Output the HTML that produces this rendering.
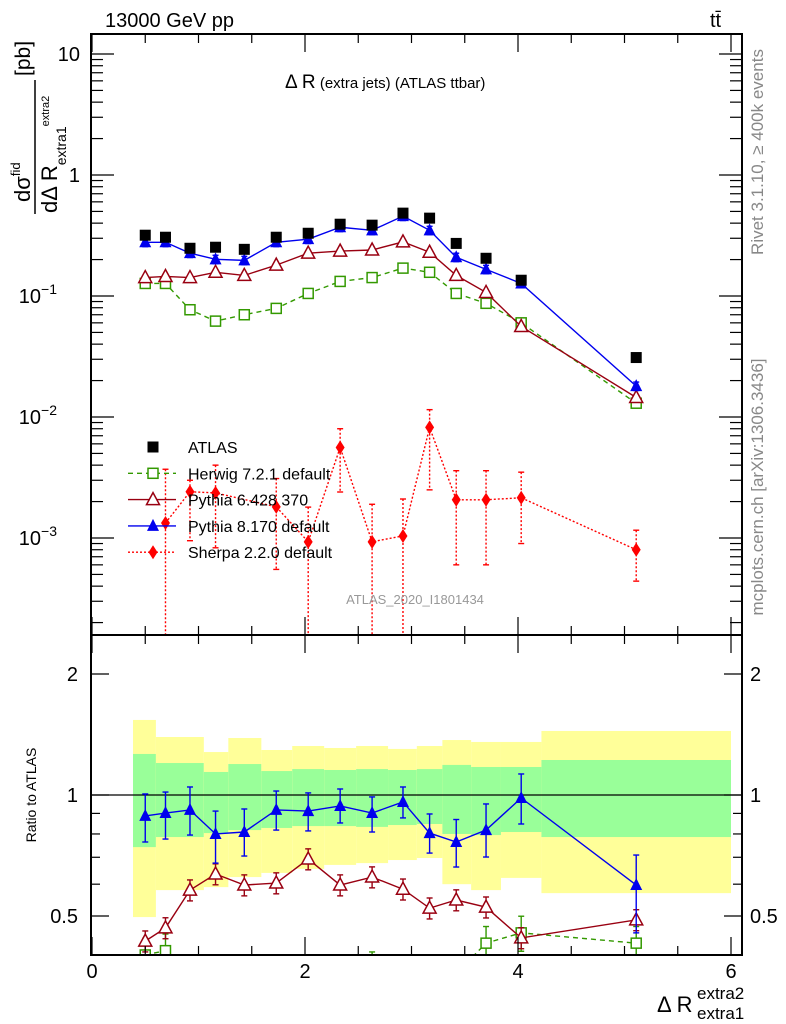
<!DOCTYPE html>
<html><head><meta charset="utf-8"><style>
html,body{margin:0;padding:0;background:#fff;}
svg{display:block;font-family:"Liberation Sans",sans-serif;}
</style></head><body>
<svg id="chart" width="786" height="1024" xmlns="http://www.w3.org/2000/svg">
<g id="bands"></g>
<g id="marks"></g>
<g id="axes"></g>
<text x="105" y="27" font-size="20">13000 GeV pp</text>
<text x="710" y="27" font-size="20">tt̄</text>
<text x="285" y="88" font-size="19">Δ R<tspan font-size="15"> (extra jets) (ATLAS ttbar)</tspan></text>
<text x="415" y="604" font-size="13" fill="#999" text-anchor="middle">ATLAS_2020_I1801434</text>
<text transform="translate(763,152) rotate(-90)" font-size="17" fill="#888" text-anchor="middle">Rivet 3.1.10, ≥ 400k events</text>
<text transform="translate(763,487) rotate(-90)" font-size="17" fill="#888" text-anchor="middle">mcplots.cern.ch [arXiv:1306.3436]</text>
<text transform="translate(36,795) rotate(-90)" font-size="14" text-anchor="middle">Ratio to ATLAS</text>
<g>
<text transform="translate(30,202) rotate(-90)" font-size="22">dσ<tspan font-size="13" dy="-10">fid</tspan></text>
<line x1="35" y1="214" x2="35" y2="80" stroke="#000" stroke-width="1.5"/>
<text transform="translate(57,213) rotate(-90)" font-size="22">dΔ R<tspan font-size="14" dy="9">extra1</tspan><tspan font-size="11" dy="-17">extra2</tspan></text>
<text transform="translate(30,76) rotate(-90)" font-size="21">[pb]</text>
</g>
<g>
<text x="657" y="1012" font-size="22">Δ R</text>
<text x="697" y="999" font-size="17">extra2</text>
<text x="697" y="1019" font-size="17">extra1</text>
</g>
<g id="legend"></g>
</svg>
<script>
// ---- data ----
const xVals = [0.50,0.69,0.92,1.16,1.43,1.73,2.03,2.33,2.63,2.92,3.17,3.42,3.70,4.03,5.11];
const atlas = [0.318,0.306,0.248,0.253,0.243,0.306,0.330,0.392,0.385,0.484,0.440,0.272,0.205,0.135,0.031];
const herwig = [0.127,0.127,0.077,0.062,0.070,0.079,0.105,0.132,0.142,0.170,0.157,0.105,0.087,0.060,0.013];
const pythia6 = [0.142,0.145,0.142,0.157,0.148,0.180,0.226,0.235,0.240,0.280,0.230,0.148,0.107,0.056,0.0145];
const pythia8 = [0.278,0.278,0.226,0.201,0.197,0.278,0.295,0.370,0.349,0.457,0.349,0.209,0.166,0.127,0.018];
const sherpa = [null,0.00133,0.00241,0.00236,null,0.00181,0.00093,0.0056,0.00093,0.00104,0.0082,0.00207,0.00207,0.00215,0.00080];
const sherpaHi = [null,0.0037,0.0030,0.0040,null,0.0031,0.0018,0.0080,0.0019,0.0021,0.0115,0.0036,0.0036,0.0035,0.00116];
const sherpaLo = [null,1e-5,0.00095,0.00083,null,0.00055,1e-5,0.0024,1e-5,1e-5,0.0025,0.0006,0.0006,0.0009,0.00044];
const binEdges = [0.385,0.60,1.05,1.28,1.59,1.88,2.18,2.48,2.78,3.05,3.29,3.56,3.84,4.22,6.0];
const yellowHi = [1.537,1.394,1.279,1.386,1.294,1.324,1.309,1.324,1.302,1.324,1.370,1.355,1.355,1.443];
const greenHi = [1.265,1.201,1.141,1.194,1.147,1.160,1.154,1.160,1.154,1.160,1.188,1.174,1.174,1.222];
const greenLo = [0.742,0.786,0.804,0.818,0.828,0.837,0.837,0.833,0.842,0.847,0.800,0.795,0.809,0.786];
const yellowLo = [0.497,0.580,0.590,0.625,0.640,0.655,0.670,0.677,0.689,0.697,0.600,0.580,0.622,0.570];
const rP8 = [0.887,0.902,0.918,0.800,0.809,0.918,0.912,0.939,0.902,0.961,0.804,0.764,0.818,0.983,0.597];
const rP8Hi = [1.006,1.017,1.047,0.912,0.923,1.023,1.012,1.035,0.989,1.047,0.897,0.869,0.950,1.128,0.709];
const rP8Lo = [0.764,0.777,0.795,0.677,0.705,0.818,0.814,0.852,0.809,0.877,0.717,0.662,0.701,0.847,0.454];
const rP6 = [0.433,0.467,0.580,0.636,0.597,0.604,0.693,0.597,0.625,0.583,0.523,0.548,0.526,0.441,0.489];
const rHw = [0.40,0.41,0.31,0.25,0.29,0.26,0.32,0.34,0.37,0.35,0.36,0.36,0.428,0.454,0.428];
const xTicks = [0,2,4,6];
const topTicks = [10,1,0.1,0.01,0.001];
const topTickLabels = ["10","1","10","10","10"];
const topTickExp = ["","","−1","−2","−3"];
const ratioTicks = [2,1,0.5];
const ratioTickLabels = ["2","1","0.5"];

// ---- geometry ----
const L=91,R=742,T=34,MID=635,B=955;
const X=v=>92+106.5*v;
const Y=v=>175-121*Math.log10(v);
const RY=v=>795-402*Math.log10(v);
const NS="http://www.w3.org/2000/svg";
function mk(tag,attrs,parent){const e=document.createElementNS(NS,tag);for(const k in attrs)e.setAttribute(k,attrs[k]);parent.appendChild(e);return e;}
const bands=document.getElementById('bands'),marks=document.getElementById('marks'),axes=document.getElementById('axes'),legend=document.getElementById('legend');
const clipTop=mk('clipPath',{id:'ct'},document.getElementById('chart'));mk('rect',{x:L,y:T,width:R-L,height:MID-T},clipTop);
const clipBot=mk('clipPath',{id:'cb'},document.getElementById('chart'));mk('rect',{x:L,y:MID,width:R-L,height:B-MID},clipBot);
bands.setAttribute('clip-path','url(#cb)');

for(let i=0;i<yellowHi.length;i++){
  const x0=X(binEdges[i]),x1=X(binEdges[i+1]);
  const y=mk('rect',{x:x0,y:RY(yellowHi[i]),width:x1-x0,height:RY(yellowLo[i])-RY(yellowHi[i]),fill:'#ffff99'},bands);
  
  
  const g=mk('rect',{x:x0,y:RY(greenHi[i]),width:x1-x0,height:RY(greenLo[i])-RY(greenHi[i]),fill:'#99ff99'},bands);
  
  
}
mk('line',{x1:L,x2:R,y1:RY(1),y2:RY(1),stroke:'#000','stroke-width':1.2},bands);

const gTop=mk('g',{'clip-path':'url(#ct)'},marks);
const gBot=mk('g',{'clip-path':'url(#cb)'},marks);

function marker(type,cx,cy,col,parent){
  let e;
  if(type==='sq') e=mk('rect',{x:cx-5.5,y:cy-5.5,width:11,height:11,fill:'#000'},parent);
  else if(type==='osq') e=mk('rect',{x:cx-5,y:cy-5,width:10,height:10,fill:'#fff',stroke:col,'stroke-width':1.5},parent);
  else if(type==='otri') e=mk('polygon',{points:`${cx},${cy-7} ${cx-6.5},${cy+5} ${cx+6.5},${cy+5}`,fill:'#fff',stroke:col,'stroke-width':1.5},parent);
  else if(type==='tri') e=mk('polygon',{points:`${cx},${cy-7} ${cx-6},${cy+5} ${cx+6},${cy+5}`,fill:col},parent);
  else e=mk('polygon',{points:`${cx},${cy-7} ${cx-4.5},${cy} ${cx},${cy+7} ${cx+4.5},${cy}`,fill:col},parent);
  return e;
}
function series(name,vals,yf,col,dash,type,parent,hi,lo,rel){
  const pts=[];
  vals.forEach((v,i)=>{if(v!=null)pts.push([X(xVals[i]),yf(v)]);});
  if(col){const p=mk('polyline',{points:pts.map(p=>p.join(',')).join(' '),fill:'none',stroke:col,'stroke-width':1.4,'stroke-dasharray':dash||'none'},parent);
    
    }
  vals.forEach((v,i)=>{
    if(v==null)return;
    const cx=X(xVals[i]),cy=yf(v);
    let h=null,l=null;
    if(hi){h=hi[i];l=lo[i];}else if(rel){h=v*(1+rel);l=v*(1-rel);}
    if(h!=null){const c=col||'#000';
      mk('line',{x1:cx,x2:cx,y1:yf(h),y2:yf(l),stroke:c,'stroke-width':1.4,'stroke-dasharray':dash&&type==='dia'?'2,2':'none'},parent);
      mk('line',{x1:cx-3,x2:cx+3,y1:yf(h),y2:yf(h),stroke:c,'stroke-width':1.4},parent);
      mk('line',{x1:cx-3,x2:cx+3,y1:yf(l),y2:yf(l),stroke:c,'stroke-width':1.4},parent);}
    const m=marker(type,cx,cy,col,parent);
    
    
  });
}
series('herwig',herwig,Y,'#339900','5,4','osq',gTop);
series('pythia6',pythia6,Y,'#990011',null,'otri',gTop);
series('pythia8',pythia8,Y,'#0000ee',null,'tri',gTop,null,null,0.08);
series('sherpa',sherpa,Y,'#ff0000','2,2','dia',gTop,sherpaHi,sherpaLo);
series('atlas',atlas,Y,null,null,'sq',gTop);
series('herwig-ratio',rHw,RY,'#339900','5,4','osq',gBot,null,null,0.1);
series('pythia6-ratio',rP6,RY,'#990011',null,'otri',gBot,null,null,0.06);
series('pythia8-ratio',rP8,RY,'#0000ee',null,'tri',gBot,rP8Hi,rP8Lo);

mk('rect',{x:L,y:T,width:R-L,height:MID-T,fill:'none',stroke:'#000','stroke-width':2},axes);
mk('rect',{x:L,y:MID,width:R-L,height:B-MID,fill:'none',stroke:'#000','stroke-width':2},axes);
for(let v=0;v<=6.001;v+=0.5){
  const major=Math.abs(v-Math.round(v/2)*2)<0.01, len=major?18:9, x=X(v);
  [[T,1],[MID,-1],[MID,1],[B,-1]].forEach(([y0,d])=>mk('line',{x1:x,x2:x,y1:y0,y2:y0+d*len,stroke:'#000','stroke-width':1.2},axes));
}
xTicks.forEach(v=>{const t=mk('text',{x:X(v),y:978,'font-size':20,'text-anchor':'middle'},axes);t.textContent=String(v);
  
  });
for(let d=-4;d<=1;d++){for(let k=1;k<=9;k++){const v=k*Math.pow(10,d),y=Y(v);if(y<T||y>MID)continue;
  const len=k===1?23:12;
  mk('line',{x1:L,x2:L+len,y1:y,y2:y,stroke:'#000','stroke-width':1.2},axes);
  mk('line',{x1:R,x2:R-len,y1:y,y2:y,stroke:'#000','stroke-width':1.2},axes);}}
topTicks.forEach((v,i)=>{const t=mk('text',{x:topTickExp[i]?57:80,y:Y(v)+7,'font-size':20,'text-anchor':'end'},axes);
  t.textContent=topTickLabels[i];
  if(topTickExp[i]){const s=mk('tspan',{'font-size':14,dy:-9},t);s.textContent=topTickExp[i];}
  
  });
for(let d=-1;d<=0;d++){for(let k=1;k<=9;k++){const v=k*Math.pow(10,d),y=RY(v);if(y<MID||y>B)continue;
  const len=(v===1||v===2||v===0.5)?18:9;
  mk('line',{x1:L,x2:L+len,y1:y,y2:y,stroke:'#000','stroke-width':1.2},axes);
  mk('line',{x1:R,x2:R-len,y1:y,y2:y,stroke:'#000','stroke-width':1.2},axes);}}
ratioTicks.forEach((v,i)=>{
  const t=mk('text',{x:78,y:RY(v)+7,'font-size':20,'text-anchor':'end'},axes);t.textContent=ratioTickLabels[i];
  
  
  const t2=mk('text',{x:750,y:RY(v)+7,'font-size':20},axes);t2.textContent=ratioTickLabels[i];
  
  });

const entries=[['ATLAS',null,null,'sq'],['Herwig 7.2.1 default','#339900','5,4','osq'],['Pythia 6.428 370','#990011',null,'otri'],['Pythia 8.170 default','#0000ee',null,'tri'],['Sherpa 2.2.0 default','#ff0000','2,2','dia']];
entries.forEach((e,i)=>{const y=447+i*26.3;
  const g=mk('g',{},legend);
  
  
  if(e[1])mk('line',{x1:128,x2:176,y1:y,y2:y,stroke:e[1],'stroke-width':1.4,'stroke-dasharray':e[2]||'none'},g);
  marker(e[3],153,y,e[1],g);
  const t=mk('text',{x:188,y:y+6,'font-size':16},g);t.textContent=e[0];});
</script>
</body></html>
